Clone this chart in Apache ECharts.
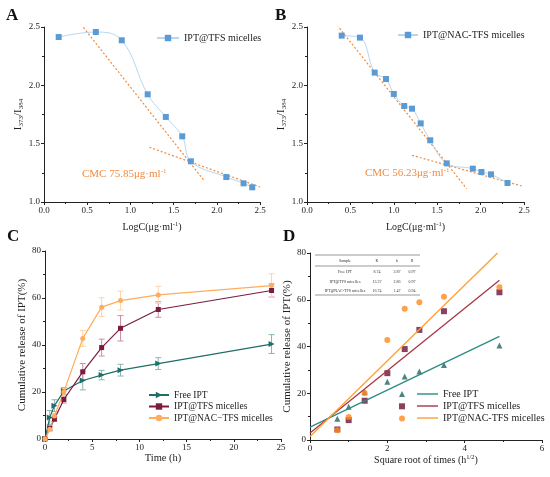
<!DOCTYPE html>
<html>
<head>
<meta charset="utf-8">
<script src="https://cdn.jsdelivr.net/npm/echarts@6/dist/echarts.min.js"></script>
<style>
html, body { margin: 0; padding: 0; background: #fff; }
#main { width: 550px; height: 477px; }
</style>
</head>
<body>
<div id="main"></div>
<script>
// A: IPT@TFS micelles, pyrene ratio
var logcA = [0.17, 0.60, 0.90, 1.20, 1.41, 1.60, 1.70, 2.11, 2.31, 2.41];
var ratioA = [2.414, 2.457, 2.386, 1.923, 1.729, 1.563, 1.349, 1.214, 1.160, 1.126];
var fitA1 = [[0.37, 2.577], [1.86, 1.177]];
var fitA2 = [[1.22, 1.469], [2.50, 1.129]];

// B: IPT@NAC-TFS micelles
var logcB = [0.40, 0.61, 0.78, 0.91, 1.00, 1.12, 1.21, 1.31, 1.42, 1.61, 1.91, 2.01, 2.12, 2.31];
var ratioB = [2.426, 2.409, 2.109, 2.054, 1.926, 1.823, 1.800, 1.674, 1.529, 1.331, 1.286, 1.257, 1.237, 1.163];
var fitB1 = [[0.26, 2.597], [1.84, 1.114]];
var fitB2 = [[1.21, 1.40], [2.49, 1.134]];

// C / D: release
var times = [0, 0.5, 1, 2, 4, 6, 8, 12, 24];
var freeIPT = [0, 9.1, 14.2, 20.4, 24.9, 27.2, 29.3, 32.1, 40.4];
var tfsRel = [0, 4.5, 8.5, 16.8, 28.6, 38.9, 47.1, 55.1, 63.2];
var nacRel = [0, 4.2, 9.8, 20.1, 42.8, 56.1, 58.9, 61.3, 65.3];
var freeErr = [0, 3, 2.5, 1.5, 4, 2, 2.5, 2.5, 4];
var tfsErr = [0, 1, 1, 1.5, 3.5, 3.6, 5.4, 3.3, 2.8];
var nacErr = [0, 1, 1, 1.5, 3.4, 4, 4, 3.7, 5];

// D: fitted lines (ends) + table
var fitFree = [[0, 5.5], [4.9, 44.3]];
var fitTfs = [[0, 3.0], [4.9, 68.3]];
var fitNac = [[0, 1.5], [4.85, 80]];
var tableHead = ['Sample', 'K', 'b', 'R'];
var tableRows = [
    ['Free IPT', '8.74', '2.87', '0.97'],
    ['IPT@TFS micelles', '13.37', '2.86', '0.97'],
    ['IPT@NAC-TFS micelles', '16.74', '1.47', '0.94']
];

var FONT = 'Liberation Serif';
var chart = echarts.init(document.getElementById('main'));

function zip(xs, ys) {
    return xs.map(function (x, i) { return [x, ys[i]]; });
}

function axis(idx, min, max, step, fmt, extra) {
    var a = {
        gridIndex: idx, type: 'value', min: min, max: max, interval: step,
        nameLocation: 'middle',
        nameTextStyle: { fontFamily: FONT, fontSize: 11, color: '#222' },
        axisLine: { show: true, onZero: false, lineStyle: { color: '#222', width: 1 } },
        axisTick: { show: true, inside: false, length: 3, lineStyle: { color: '#222' } },
        minorTick: { show: true, splitNumber: 2, length: 2, lineStyle: { color: '#222' } },
        splitLine: { show: false },
        axisLabel: { color: '#222', fontFamily: FONT, fontSize: 9, margin: 4, formatter: fmt }
    };
    return Object.assign(a, extra);
}
function f1(v) { return v.toFixed(1); }

var subRich = {
    n: { fontFamily: FONT, fontSize: 11, color: '#222' },
    s: { fontFamily: FONT, fontSize: 7, color: '#222', padding: [7, 0, 0, 0] }
};
var supRich = {
    n: { fontFamily: FONT, fontSize: 10, color: '#222' },
    u: { fontFamily: FONT, fontSize: 6.5, color: '#222', padding: [0, 0, 6, 0] }
};

function errBars(vals, errs, color, gi) {
    return {
        type: 'custom', xAxisIndex: gi, yAxisIndex: gi, silent: true, z: 1,
        data: times.map(function (t, i) { return [t, vals[i] - errs[i], vals[i] + errs[i]]; }),
        encode: { x: 0, y: [1, 2] },
        renderItem: function (params, api) {
            var lo = api.coord([api.value(0), api.value(1)]);
            var hi = api.coord([api.value(0), api.value(2)]);
            var st = { stroke: color, lineWidth: 1 };
            return {
                type: 'group', children: [
                    { type: 'line', shape: { x1: lo[0], y1: lo[1], x2: hi[0], y2: hi[1] }, style: st },
                    { type: 'line', shape: { x1: lo[0] - 3, y1: lo[1], x2: lo[0] + 3, y2: lo[1] }, style: st },
                    { type: 'line', shape: { x1: hi[0] - 3, y1: hi[1], x2: hi[0] + 3, y2: hi[1] }, style: st }
                ]
            };
        }
    };
}

function fitLine(data, gi) {
    return {
        type: 'line', xAxisIndex: gi, yAxisIndex: gi, data: data, symbol: 'none', silent: true,
        lineStyle: { color: '#f28a3c', width: 1.2, type: [2, 2] }
    };
}

var teal = '#1f6e68', maroon = '#7a1c3e', orange = '#ffac5c';
var cSeries = [
    errBars(freeIPT, freeErr, '#86b6b2', 2),
    errBars(tfsRel, tfsErr, '#c990a4', 2),
    errBars(nacRel, nacErr, '#ffd4a8', 2),
    { name: 'C:Free IPT', type: 'line', xAxisIndex: 2, yAxisIndex: 2, data: zip(times, freeIPT),
      symbol: 'triangle', symbolRotate: -90, symbolSize: 6,
      itemStyle: { color: teal }, lineStyle: { color: teal, width: 1.2 } },
    { name: 'C:IPT@TFS micelles', type: 'line', xAxisIndex: 2, yAxisIndex: 2, data: zip(times, tfsRel),
      symbol: 'rect', symbolSize: 5, itemStyle: { color: maroon }, lineStyle: { color: maroon, width: 1.2 } },
    { name: 'C:IPT@NAC\u2212TFS micelles', type: 'line', xAxisIndex: 2, yAxisIndex: 2, data: zip(times, nacRel),
      symbol: 'circle', symbolSize: 5, itemStyle: { color: orange }, lineStyle: { color: orange, width: 1.2 } }
];

var sq = times.slice(1).map(function (t) { return Math.sqrt(t); });
var dSeries = [
    { name: 'D:Free IPT', type: 'line', xAxisIndex: 3, yAxisIndex: 3, data: fitFree, symbol: 'none',
      lineStyle: { color: '#2e8a84', width: 1.3 }, itemStyle: { color: '#2e8a84' } },
    { name: 'D:IPT@TFS micelles', type: 'line', xAxisIndex: 3, yAxisIndex: 3, data: fitTfs, symbol: 'none',
      lineStyle: { color: '#a83545', width: 1.3 }, itemStyle: { color: '#a83545' } },
    { name: 'D:IPT@NAC-TFS micelles', type: 'line', xAxisIndex: 3, yAxisIndex: 3, data: fitNac, symbol: 'none',
      lineStyle: { color: '#ffa030', width: 1.3 }, itemStyle: { color: '#ffa030' } },
    { name: 'M:1', type: 'scatter', xAxisIndex: 3, yAxisIndex: 3, data: zip(sq, freeIPT.slice(1)),
      symbol: 'triangle', symbolSize: 6, itemStyle: { color: '#1e6862' } },
    { name: 'M:2', type: 'scatter', xAxisIndex: 3, yAxisIndex: 3, data: zip(sq, tfsRel.slice(1)),
      symbol: 'rect', symbolSize: 6, itemStyle: { color: '#6b1238' } },
    { name: 'M:3', type: 'scatter', xAxisIndex: 3, yAxisIndex: 3, data: zip(sq, nacRel.slice(1)),
      symbol: 'circle', symbolSize: 6, itemStyle: { color: '#ff8a1c' } }
];

function strip(n) { return n.slice(2); }
function legTxt(size) { return { fontFamily: FONT, fontSize: size, color: '#222' }; }

// table in D
var tbl = [];
var colX = [345, 377, 397, 412];
var rowY = [272, 281.5, 291];
var ts = { fontFamily: FONT, fontSize: 4, fill: '#333', align: 'center', verticalAlign: 'middle' };
[255, 266, 295].forEach(function (y) {
    tbl.push({ type: 'line', shape: { x1: 315, y1: y, x2: 420, y2: y }, style: { stroke: '#555', lineWidth: 0.6 } });
});
tableHead.forEach(function (h, j) {
    tbl.push({ type: 'text', x: colX[j], y: 261, style: Object.assign({ text: h }, ts) });
});
tableRows.forEach(function (r, i) {
    r.forEach(function (c, j) {
        tbl.push({ type: 'text', x: colX[j], y: rowY[i], style: Object.assign({ text: c }, ts) });
    });
});

function letter(t, x, y) {
    return { type: 'text', x: x, y: y, style: { text: t, fontFamily: FONT, fontSize: 17, fontWeight: 'bold', fill: '#111' } };
}
function cmc(t, x, y) {
    return { type: 'text', x: x, y: y, style: { rich: {
        n: { fontFamily: FONT, fontSize: 11, fill: '#f28a3c' },
        u: { fontFamily: FONT, fontSize: 7, fill: '#f28a3c', padding: [0, 0, 6, 0] }
    }, text: t } };
}

var option = {
    backgroundColor: '#fff',
    animation: false,
    grid: [
        { left: 44, top: 27, width: 216, height: 175, outerBoundsMode: 'none' },
        { left: 307, top: 27, width: 217, height: 175, outerBoundsMode: 'none' },
        { left: 45, top: 251, width: 236, height: 188, outerBoundsMode: 'none' },
        { left: 310, top: 253, width: 232, height: 187, outerBoundsMode: 'none' }
    ],
    xAxis: [
        axis(0, 0, 2.5, 0.5, f1, { name: '{n|LogC(μg·ml}{u|-1}{n|)}', nameGap: 19, nameTextStyle: { rich: supRich } }),
        axis(1, 0, 2.5, 0.5, f1, { name: '{n|LogC(μg·ml}{u|-1}{n|)}', nameGap: 19, nameTextStyle: { rich: supRich } }),
        axis(2, 0, 25, 5, null, { name: 'Time (h)', nameGap: 11,
            nameTextStyle: { fontFamily: FONT, fontSize: 10.5, color: '#222' } }),
        axis(3, 0, 6, 2, null, { name: '{n|Square root of times (h}{u|1/2}{n|)}', nameGap: 11, nameTextStyle: { rich: supRich } })
    ],
    yAxis: [
        axis(0, 1, 2.5, 0.5, f1, { name: '{n|I}{s|373}{n|/I}{s|384}', nameGap: 14, nameTextStyle: { rich: subRich } }),
        axis(1, 1, 2.5, 0.5, f1, { name: '{n|I}{s|373}{n|/I}{s|384}', nameGap: 17, nameTextStyle: { rich: subRich } }),
        axis(2, 0, 80, 20, null, { name: 'Cumulative release of IPT(%)', nameGap: 13 }),
        axis(3, 0, 80, 20, null, { name: 'Cumulative release of IPT(%)', nameGap: 12 })
    ],
    legend: [
        { data: ['A:IPT@TFS micelles'], left: 156, top: 33, padding: 0, itemWidth: 22, itemHeight: 8,
          formatter: strip, textStyle: legTxt(10) },
        { data: ['B:IPT@NAC-TFS micelles'], left: 397, top: 30, padding: 0, itemWidth: 20, itemHeight: 8,
          formatter: strip, textStyle: legTxt(10) },
        { data: ['C:Free IPT', 'C:IPT@TFS micelles', 'C:IPT@NAC\u2212TFS micelles'], orient: 'vertical',
          left: 148, top: 390, padding: 0, itemWidth: 20, itemHeight: 8, itemGap: 1.5,
          formatter: strip, textStyle: legTxt(9.5) },
        { data: ['D:Free IPT', 'D:IPT@TFS micelles', 'D:IPT@NAC-TFS micelles'], orient: 'vertical',
          left: 417, top: 389, padding: 0, icon: 'rect', itemWidth: 21, itemHeight: 1.4, itemGap: 2,
          formatter: strip, textStyle: legTxt(10) },
        { data: ['M:1', 'M:2', 'M:3'], orient: 'vertical', left: 399, top: 391, padding: 0,
          itemWidth: 6, itemHeight: 6, itemGap: 6.3,
          formatter: function () { return ''; }, textStyle: { fontSize: 6 } }
    ],
    graphic: [
        letter('A', 6, 7), letter('B', 275, 7), letter('C', 7, 228), letter('D', 283, 228),
        cmc('{n|CMC 75.85μg·ml}{u|-1}', 82, 168),
        cmc('{n|CMC 56.23μg·ml}{u|-1}', 365, 167),
        { type: 'group', children: tbl }
    ],
    series: [
        fitLine(fitA1, 0), fitLine(fitA2, 0),
        { name: 'A:IPT@TFS micelles', type: 'line', xAxisIndex: 0, yAxisIndex: 0, data: zip(logcA, ratioA),
          smooth: 0.4, symbol: 'rect', symbolSize: 6,
          itemStyle: { color: '#5b9bd5' }, lineStyle: { color: '#b7d7ee', width: 1 } },
        fitLine(fitB1, 1), fitLine(fitB2, 1),
        { name: 'B:IPT@NAC-TFS micelles', type: 'line', xAxisIndex: 1, yAxisIndex: 1, data: zip(logcB, ratioB),
          smooth: 0.4, symbol: 'rect', symbolSize: 6,
          itemStyle: { color: '#5b9bd5' }, lineStyle: { color: '#b7d7ee', width: 1 } }
    ].concat(cSeries, dSeries)
};

chart.setOption(option);
</script>
</body>
</html>
